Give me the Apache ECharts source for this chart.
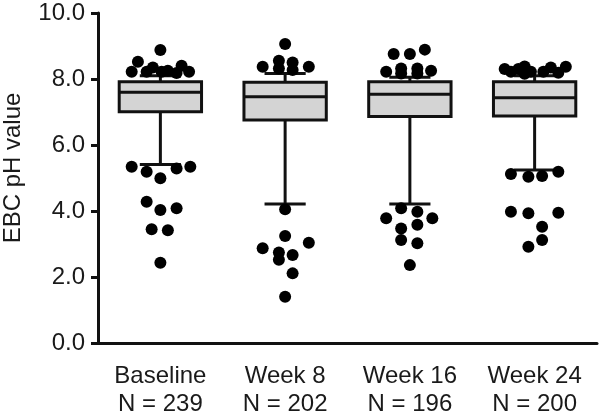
<!DOCTYPE html>
<html>
<head>
<meta charset="utf-8">
<script src="https://cdn.jsdelivr.net/npm/echarts@6/dist/echarts.min.js"></script>
<style>html,body{margin:0;padding:0;background:#fff}#c{width:600px;height:413px}</style>
</head>
<body>
<div id="c"></div>
<script>
// ---- data ----
var categories = ['Baseline', 'Week 8', 'Week 16', 'Week 24'];
var nLabels = ['N = 239', 'N = 202', 'N = 196', 'N = 200'];
var whiskerLow  = [5.41, 4.21, 4.21, 5.24];
var q1          = [7.01, 6.76, 6.86, 6.88];
var median      = [7.60, 7.46, 7.54, 7.43];
var q3          = [7.92, 7.90, 7.92, 7.92];
var whiskerHigh = [8.10, 8.17, 8.05, 8.10];
var yTicks = [0, 2, 4, 6, 8, 10];

// outliers: [horizontal jitter (in category widths), pH value]
var baselineOutliers = [[0,8.88],[-0.18,8.52],[-0.23,8.22],[-0.11,8.22],[-0.06,8.35],[0.01,8.22],[0.06,8.25],[0.13,8.18],[0.17,8.40],[0.23,8.22],
  [-0.23,5.34],[-0.11,5.19],[0,4.99],[0.13,5.29],[0.24,5.34],[-0.11,4.28],[0,4.03],[0.13,4.08],[-0.07,3.45],[0.06,3.42],[0,2.43]];
var week8Outliers = [[0,9.06],[-0.18,8.37],[-0.05,8.55],[-0.05,8.32],[0.06,8.50],[0.06,8.27],[0.19,8.37],
  [0,4.05],[0,3.24],[-0.18,2.87],[0.19,3.04],[-0.05,2.74],[0.06,2.67],[-0.05,2.52],[0.06,2.11],[0,1.40]];
var week16Outliers = [[0.12,8.89],[-0.13,8.76],[0,8.76],[-0.19,8.22],[-0.07,8.32],[-0.07,8.17],[0.06,8.32],[0.06,8.17],[0.17,8.25],
  [-0.07,4.08],[0.06,3.98],[-0.19,3.78],[-0.07,3.47],[0.06,3.58],[0.18,3.78],[-0.07,3.12],[0.06,3.02],[0,2.36]];
var week24Outliers = [[-0.24,8.30],[-0.19,8.22],[-0.13,8.30],[-0.08,8.38],[-0.08,8.16],[-0.03,8.22],[0.07,8.22],[0.13,8.35],[0.19,8.19],[0.25,8.37],
  [-0.19,5.12],[-0.05,5.04],[0.06,5.06],[0.19,5.19],[-0.19,3.98],[-0.05,3.93],[0.19,3.95],[0.06,3.52],[0.06,3.12],[-0.05,2.92]];
var outlierGroups = [baselineOutliers, week8Outliers, week16Outliers, week24Outliers];

// ---- build ----
var FONT = '"Liberation Sans", Arial, sans-serif';
var TXT = '#1a1a1a';
var boxData = categories.map(function (c, i) {
  return [i, whiskerLow[i], q1[i], median[i], q3[i], whiskerHigh[i]];
});
var scatterData = [];
outlierGroups.forEach(function (g, i) {
  g.forEach(function (p) { scatterData.push([i + p[0], p[1]]); });
});

var chart = echarts.init(document.getElementById('c'), null, {renderer: 'canvas'});
chart.setOption({
  animation: false,
  grid: {left: 98, right: 3, top: 13, bottom: 70, containLabel: false, outerBoundsMode: 'none'},
  xAxis: [{
    type: 'category',
    data: categories,
    boundaryGap: true,
    axisLine: {onZero: false, lineStyle: {color: '#111', width: 3}},
    axisTick: {show: false},
    axisLabel: {
      color: TXT, fontFamily: FONT, fontSize: 24, lineHeight: 28, margin: 19,
      formatter: function (v, i) { return v + '\n' + nLabels[i]; }
    }
  }, {
    type: 'value', min: -0.5, max: 3.5, show: false
  }],
  yAxis: {
    type: 'value', min: yTicks[0], max: yTicks[yTicks.length - 1], interval: 2,
    name: 'EBC pH value', nameLocation: 'middle', nameGap: 73,
    nameTextStyle: {color: TXT, fontFamily: FONT, fontSize: 24, padding: [0, 0, 0, 20]},
    axisLine: {show: true, onZero: false, lineStyle: {color: '#111', width: 3}},
    axisTick: {show: true, length: 7, lineStyle: {color: '#111', width: 3}},
    splitLine: {show: false},
    axisLabel: {color: TXT, fontFamily: FONT, fontSize: 24, margin: 13,
      formatter: function (v) { return v.toFixed(1); }}
  },
  series: [{
    type: 'custom',
    xAxisIndex: 0,
    data: boxData,
    z: 2,
    renderItem: function (params, api) {
      var i = api.value(0);
      var band = api.size([1, 0])[0];
      var hw = band * 0.33;
      var cw = band * 0.165;
      var c = api.coord([i, api.value(1)]);
      var x = c[0];
      var yLo = c[1];
      var yQ1 = api.coord([i, api.value(2)])[1];
      var yMed = api.coord([i, api.value(3)])[1];
      var yQ3 = api.coord([i, api.value(4)])[1];
      var yHi = api.coord([i, api.value(5)])[1];
      var ls = {stroke: '#111', lineWidth: 3};
      return {
        type: 'group',
        children: [
          {type: 'line', shape: {x1: x, y1: yLo, x2: x, y2: yQ1}, style: ls},
          {type: 'line', shape: {x1: x, y1: yQ3, x2: x, y2: yHi}, style: ls},
          {type: 'line', shape: {x1: x - cw, y1: yLo, x2: x + cw, y2: yLo}, style: ls},
          {type: 'line', shape: {x1: x - cw, y1: yHi, x2: x + cw, y2: yHi}, style: ls},
          {type: 'rect', shape: {x: x - hw, y: yQ3, width: 2 * hw, height: yQ1 - yQ3},
            style: {fill: '#d4d4d4', stroke: '#111', lineWidth: 3}},
          {type: 'line', shape: {x1: x - hw, y1: yMed, x2: x + hw, y2: yMed}, style: ls}
        ]
      };
    }
  }, {
    type: 'scatter',
    xAxisIndex: 1,
    data: scatterData,
    symbol: 'circle',
    symbolSize: 12,
    itemStyle: {color: '#000', opacity: 1},
    z: 3
  }]
});
</script>
</body>
</html>
